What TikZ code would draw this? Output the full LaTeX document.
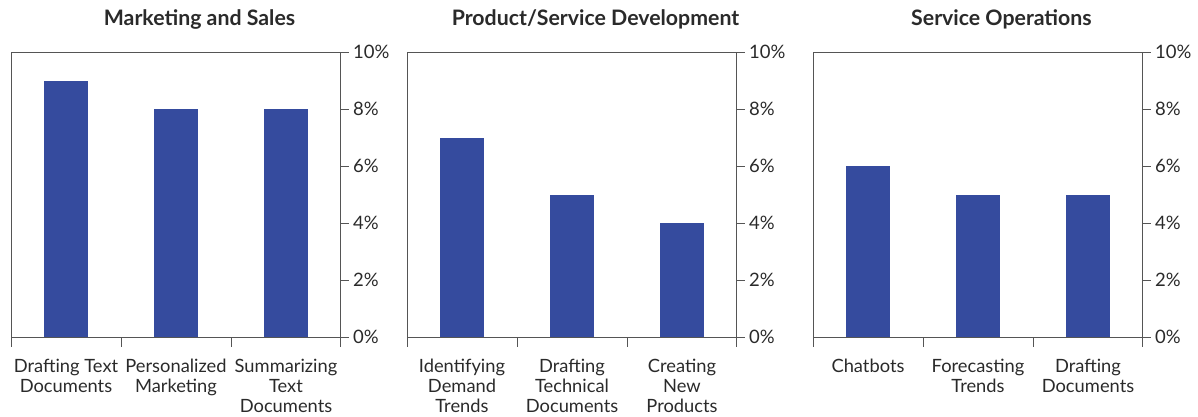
\documentclass[tikz,border=0pt]{standalone}
\usepackage{fontspec}
\setmainfont{Lato}
\definecolor{barblue}{HTML}{354B9E}
\definecolor{axisgray}{HTML}{555555}
\definecolor{txt}{HTML}{2A2A2A}
\begin{document}
\begin{tikzpicture}[x=1pt,y=-1pt,
  axis/.style={draw=axisgray,line width=1pt},
  bar/.style={fill=barblue,draw=none},
  ticklab/.style={anchor=west,inner sep=0pt,text=txt,font=\fontsize{18.5}{20}\selectfont},
  catlab/.style={anchor=north,inner sep=0pt,align=center,text=txt,font=\fontsize{18.3}{20}\selectfont},
  title/.style={anchor=center,inner sep=0pt,text=txt,font=\fontsize{21.3}{24}\selectfont\bfseries}]
\useasboundingbox (0,0) rectangle (1198,416);
% panel: left x, title, values, labels
\foreach \p/\L/\T/\va/\vb/\vc/\la/\lb/\lc in {
  1/11/Marketing and Sales/9/8/8/{Drafting Text\\Documents}/{Personalized\\Marketing}/{Summarizing\\Text\\Documents},
  2/407/Product\slash Service Development/7/5/4/{Identifying\\Demand\\Trends}/{Drafting\\Technical\\Documents}/{Creating\\New\\Products},
  3/813/Service Operations/6/5/5/{Chatbots}/{Forecasting\\Trends}/{Drafting\\Documents}}{
  \pgfmathsetmacro{\R}{\L+329}
  % title
  \node[title] (title\p) at ({(\L+\R+48)/2},19) {\T};
  % bars
  \foreach \v [count=\i from 0] in {\va,\vb,\vc}{
    \pgfmathsetmacro{\cx}{\L+55+110*\i}
    \fill[bar] (\cx-22,337) rectangle (\cx+22,{337-28.5*\v});
  }
  % frame: left, top, bottom, right axis
  \draw[axis] (\L,52) -- (\L,337);
  \draw[axis] (\L,52) -- (\R+9,52);
  \draw[axis] (\L,337) -- (\R+9,337);
  \draw[axis] (\R,52) -- (\R,347);
  \foreach \k in {1,2,3,4}
    \draw[axis] (\R,{337-57*\k}) -- (\R+9,{337-57*\k});
  \foreach \k in {0,1,2}
    \draw[axis] ({\L+110*\k},337) -- ({\L+110*\k},347);
  % tick labels
  \foreach \k/\lab in {0/0,1/2,2/4,3/6,4/8,5/10}
    \node[ticklab] (tl\p\k) at (\R+13,{337-57*\k}) {\lab\%};
  % category labels
  \node[catlab] (c\p a) at (\L+55,359) {\la};
  \node[catlab] (c\p b) at (\L+165,359) {\lb};
  \node[catlab] (c\p c) at (\L+275,359) {\lc};
}
\end{tikzpicture}
\end{document}
